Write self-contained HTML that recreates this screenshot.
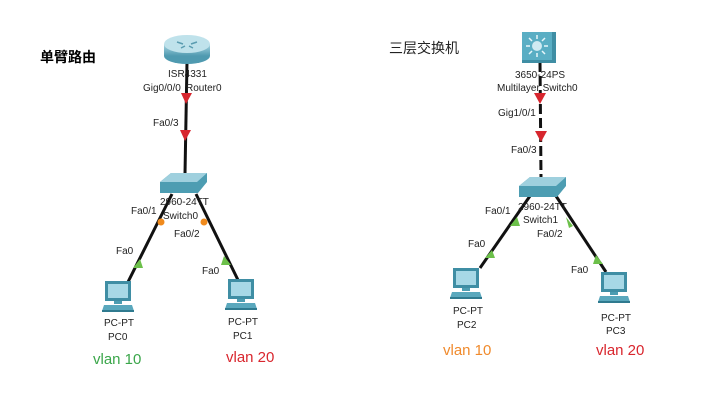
<!DOCTYPE html>
<html><head><meta charset="utf-8"><style>
html,body{margin:0;padding:0;background:#fff;}
svg{display:block;font-family:"Liberation Sans","Noto Sans CJK SC",sans-serif;}
.l{font-size:10px;fill:#222;}
</style></head><body>
<svg width="714" height="403" viewBox="0 0 714 403">
<defs>
<linearGradient id="rt" x1="0" y1="0" x2="0" y2="1"><stop offset="0" stop-color="#a9d6e2"/><stop offset="1" stop-color="#4f9ab0"/></linearGradient>
<g id="pc">
<rect x="3" y="0" width="26" height="20" fill="#3f8ea4"/>
<rect x="6" y="3" width="20" height="14" fill="#a7d8e6"/>
<rect x="12" y="20" width="8" height="3" fill="#4d9db2"/>
<path d="M2 24 H30 L32 30 H0 Z" fill="#5aa8bd"/>
<rect x="0" y="29" width="32" height="2" fill="#2f7a8f"/>
</g>
</defs>

<text x="40" y="62" font-size="14" font-weight="bold" fill="#000">单臂路由</text>
<text x="389" y="53" font-size="14" fill="#222">三层交换机</text>

<!-- LEFT -->
<line x1="187" y1="62" x2="185" y2="174" stroke="#111" stroke-width="3"/>
<line x1="172" y1="194" x2="128" y2="282" stroke="#111" stroke-width="3"/>
<line x1="196" y1="194" x2="238" y2="280" stroke="#111" stroke-width="3"/>
<path d="M181 93 L192 93 L186 104 Z" fill="#d7262e"/>
<path d="M180 130 L191 130 L185 141 Z" fill="#d7262e"/>
<circle cx="161" cy="222" r="3.5" fill="#f08a1c"/>
<circle cx="204" cy="222" r="3.5" fill="#f08a1c"/>
<path d="M133 268 L143 268 L140 259 Z" fill="#6cc04a"/>
<path d="M221 265 L231 265 L224 256 Z" fill="#6cc04a"/>
<ellipse cx="187" cy="56" rx="23" ry="8" fill="#4f9ab0"/>
<rect x="164" y="44" width="46" height="12" fill="url(#rt)"/>
<ellipse cx="187" cy="44" rx="23" ry="9" fill="#bfe2eb"/>
<path d="M177 42 l6 2 M197 42 l-6 2 M181 48 l4 -2 M193 48 l-4 -2" stroke="#5a9cb0" stroke-width="1.5"/>
<text class="l" x="168" y="77">ISR4331</text>
<text class="l" x="143" y="91">Gig0/0/0</text>
<text class="l" x="186" y="91">Router0</text>
<text class="l" x="153" y="126">Fa0/3</text>
<path d="M160 182 L171 173 L207 173 L207 182 L198 193 L160 193 Z" fill="#4d9db2"/>
<path d="M160 182 L171 173 L207 173 L197 182 Z" fill="#9fd0de"/>
<text class="l" x="160" y="205">2960-24TT</text>
<text class="l" x="163" y="219">Switch0</text>
<text class="l" x="131" y="214">Fa0/1</text>
<text class="l" x="174" y="237">Fa0/2</text>
<text class="l" x="116" y="254">Fa0</text>
<text class="l" x="202" y="274">Fa0</text>
<use href="#pc" x="102" y="281"/>
<use href="#pc" x="225" y="279"/>
<text class="l" x="104" y="326">PC-PT</text>
<text class="l" x="108" y="340">PC0</text>
<text class="l" x="228" y="325">PC-PT</text>
<text class="l" x="233" y="339">PC1</text>
<text x="93" y="364" font-size="15" fill="#3aa64a">vlan 10</text>
<text x="226" y="362" font-size="15" fill="#d9262e">vlan 20</text>

<!-- RIGHT -->
<line x1="540" y1="62" x2="541" y2="178" stroke="#111" stroke-width="3" stroke-dasharray="10,4"/>
<line x1="530" y1="196" x2="480" y2="268" stroke="#111" stroke-width="3"/>
<line x1="556" y1="196" x2="606" y2="272" stroke="#111" stroke-width="3"/>
<path d="M534 93 L546 93 L540 104 Z" fill="#d7262e"/>
<path d="M535 131 L547 131 L541 142 Z" fill="#d7262e"/>
<path d="M510 226 L520 226 L517 217 Z" fill="#6cc04a"/>
<path d="M566 217 L573 226 L569 228 Z" fill="#6cc04a"/>
<path d="M485 258 L495 258 L492 250 Z" fill="#6cc04a"/>
<path d="M593 264 L603 264 L596 255 Z" fill="#6cc04a"/>
<rect x="522" y="32" width="34" height="31" fill="#3f8ea4"/>
<rect x="522" y="32" width="30" height="28" fill="#5aaec4"/>
<circle cx="537" cy="46" r="5" fill="#cfeaf2"/>
<g stroke="#e8f6fa" stroke-width="1.5"><line x1="537" y1="35" x2="537" y2="39"/><line x1="537" y1="53" x2="537" y2="57"/><line x1="526" y1="46" x2="530" y2="46"/><line x1="544" y1="46" x2="548" y2="46"/><line x1="529" y1="38" x2="532" y2="41"/><line x1="545" y1="38" x2="542" y2="41"/><line x1="529" y1="54" x2="532" y2="51"/><line x1="545" y1="54" x2="542" y2="51"/></g>
<text class="l" x="515" y="78">3650-24PS</text>
<text class="l" x="497" y="91">Multilayer Switch0</text>
<text class="l" x="498" y="116">Gig1/0/1</text>
<text class="l" x="511" y="153">Fa0/3</text>
<path d="M519 186 L530 177 L566 177 L566 186 L557 197 L519 197 Z" fill="#4d9db2"/>
<path d="M519 186 L530 177 L566 177 L556 186 Z" fill="#9fd0de"/>
<text class="l" x="518" y="210">2960-24TT</text>
<text class="l" x="523" y="223">Switch1</text>
<text class="l" x="485" y="214">Fa0/1</text>
<text class="l" x="537" y="237">Fa0/2</text>
<text class="l" x="468" y="247">Fa0</text>
<text class="l" x="571" y="273">Fa0</text>
<use href="#pc" x="450" y="268"/>
<use href="#pc" x="598" y="272"/>
<text class="l" x="453" y="314">PC-PT</text>
<text class="l" x="457" y="328">PC2</text>
<text class="l" x="601" y="321">PC-PT</text>
<text class="l" x="606" y="334">PC3</text>
<text x="443" y="355" font-size="15" fill="#f08a2c">vlan 10</text>
<text x="596" y="355" font-size="15" fill="#d9262e">vlan 20</text>
</svg>
</body></html>
